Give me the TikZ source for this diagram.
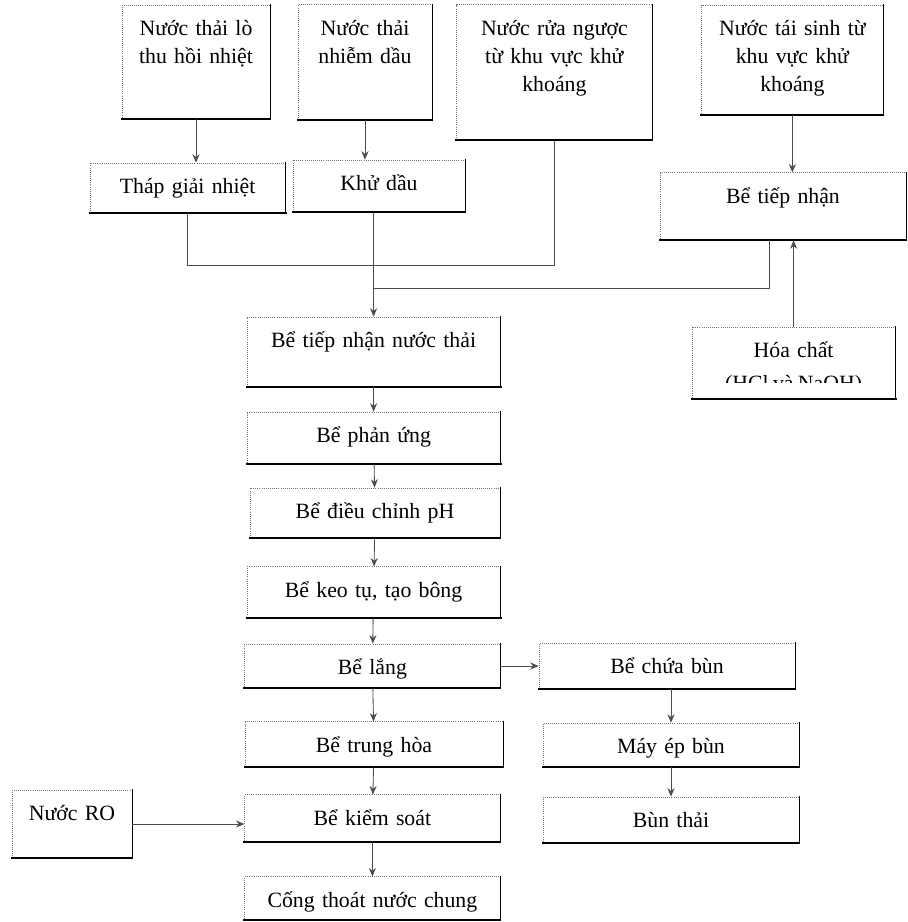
\documentclass[tikz,border=0pt]{standalone}
\usepackage{fontspec}
\setmainfont{Liberation Serif}
\usetikzlibrary{arrows.meta, positioning}
\newcommand\fsz{\fontsize{15.5pt}{20pt}\selectfont\spaceskip=0.2em plus 0.1em minus 0.05em\relax}

\begin{document}
\begin{tikzpicture}[font=\fsz, >=Stealth,
    box/.style={draw=black!55, densely dotted, line width=0.5pt, inner sep=0pt, align=center, text height=0.76cm},
    sz/.style 2 args={text width=#1cm, text depth=#2cm},
    rimb/.style={line width=1.4pt, line cap=rect},
    rimr/.style={line width=0.8pt, line cap=rect},
    link/.style={draw=black!70, line width=0.6pt},
    flow/.style={link, -{Stealth[length=6pt, width=5pt]}}]
    \useasboundingbox (0,0) rectangle (22.7,-23.05);

    % nguon nuoc thai
    \node[box, sz={3.7}{2.07}] (a1) at (4.9,-1.54) {Nước thải lò\\thu hồi nhiệt};
    \node[box, sz={3.35}{2.12}] (a2) at (9.125,-1.56) {Nước thải\\nhiễm dầu};
    \node[box, sz={4.88}{2.62}] (a3) at (13.86,-1.81) {Nước rửa ngược\\từ khu vực khử\\khoáng};
    \node[box, sz={4.53}{1.99}] (a4) at (19.81,-1.5) {Nước tái sinh từ\\khu vực khử\\khoáng};
    \node[box, sz={4.88}{0.49}] (b1) at (4.69,-4.7) {Tháp giải nhiệt};
    \node[box, sz={4.3}{0.54}] (b2) at (9.475,-4.65) {Khử dầu};
    \node[box, sz={6.15}{0.92}] (b3) at (19.575,-5.16) {Bể tiếp nhận};
    \node[box, sz={5.08}{1.04}] (hoa) at (19.84,-9.075) {Hóa chất};
    \begin{scope}
        \clip (hoa.north west) rectangle (hoa.east |- 0,-9.55);
        \node[anchor=base] (hoa2) at (hoa.center |- 0,-9.75) {(HCl và NaOH)};
    \end{scope}

    % day chuyen chinh
    \node[box, sz={6.33}{0.99}] (c1) at (9.34,-8.8) {Bể tiếp nhận nước thải};
    \node[box, sz={6.33}{0.52}] (c2) at (9.34,-10.94) {Bể phản ứng};
    \node[box, sz={6.25}{0.49}] (c3) at (9.375,-12.825) {Bể điều chỉnh pH};
    \node[box, sz={6.33}{0.52}] (c4) at (9.34,-14.81) {Bể keo tụ, tạo bông};
    \node[box, sz={6.38}{0.34}] (c5) at (9.31,-16.65) {Bể lắng};
    \node[box, sz={6.45}{0.37}] (c6) at (9.35,-18.61) {Bể trung hòa};
    \node[box, sz={6.38}{0.42}] (c7) at (9.31,-20.46) {Bể kiểm soát};
    \node[box, sz={6.38}{0.32}] (c8) at (9.31,-22.46) {Cống thoát nước chung};
    \node[box, sz={6.4}{0.39}] (d1) at (16.675,-16.65) {Bể chứa bùn};
    \node[box, sz={6.4}{0.34}] (d2) at (16.775,-18.625) {Máy ép bùn};
    \node[box, sz={6.4}{0.37}] (d3) at (16.775,-20.49) {Bùn thải};
    \node[box, sz={3.0}{0.94}] (ro) at (1.8,-20.6) {Nước RO};

    \foreach \n in {a1,a2,a3,a4,b1,b2,b3,hoa,c1,c2,c3,c4,c5,c6,c7,c8,d1,d2,d3,ro} {
        \draw[rimb] (\n.south west) -- (\n.south east);
        \draw[rimr] (\n.south east) -- (\n.north east);
    }

    \coordinate (j1) at (9.34,-6.625);
    \coordinate (j2) at (9.34,-7.2);

    \draw[flow] (a1.south) -- (a1.south |- b1.north);
    \draw[flow] (a2.south) -- (a2.south |- b2.north);
    \draw[flow] (a4.south) -- (a4.south |- b3.north);
    \draw[flow] (hoa.north) -- (hoa.north |- b3.south);
    \draw[link] (b1.south) |- (j1);
    \draw[link] (a3.south) |- (j1);
    \draw[link] ([xshift=-0.33cm]b3.south) |- (j2);
    \draw[flow] (b2.south -| c1.north) -- (c1.north);

    \draw[flow] (c1) -- (c2);
    \draw[flow] (c2) -- (c3);
    \draw[flow] (c3) -- (c4);
    \draw[flow] (c4) -- (c5);
    \draw[flow] (c5) -- (c6);
    \draw[flow] (c6) -- (c7);
    \draw[flow] (c7) -- (c8);
    \draw[flow] (c5) -- (d1);
    \draw[flow] (d1.south -| d2.north) -- (d2.north);
    \draw[flow] (d2) -- (d3);
    \draw[flow] (ro) -- (ro -| c7.west);
\end{tikzpicture}
\end{document}
